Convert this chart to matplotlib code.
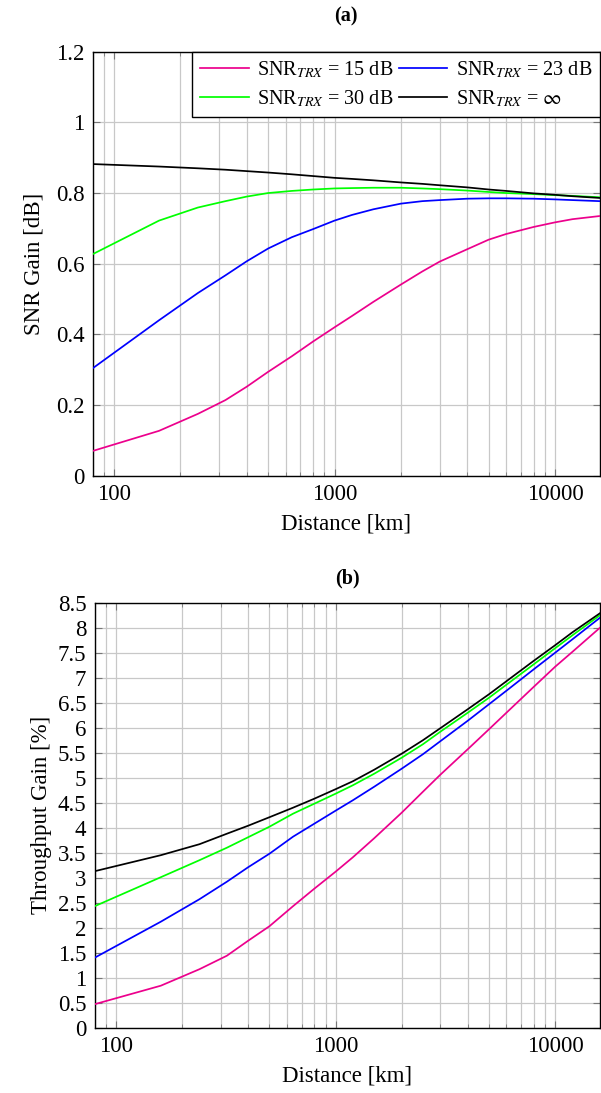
import matplotlib
matplotlib.use('Agg')
import matplotlib.pyplot as plt
from matplotlib.ticker import FixedLocator, FuncFormatter, LogLocator, NullFormatter

plt.rcParams['font.family'] = ['Liberation Serif', 'DejaVu Serif']
plt.rcParams['mathtext.fontset'] = 'stix'

# distance grid [km]
dist = [80, 160, 240, 320, 400, 500, 640, 800, 1000, 1200, 1500, 2000, 2500,
        3000, 4000, 5000, 6000, 8000, 10000, 12000, 16000]

# (a) SNR gain [dB]
snr_15 = [0.070, 0.127, 0.175, 0.214, 0.252, 0.294, 0.338, 0.380, 0.420, 0.452,
          0.492, 0.541, 0.578, 0.606, 0.641, 0.668, 0.684, 0.704, 0.717, 0.726, 0.735]
snr_23 = [0.304, 0.440, 0.517, 0.567, 0.607, 0.643, 0.675, 0.698, 0.722, 0.738,
          0.754, 0.770, 0.777, 0.780, 0.784, 0.785, 0.785, 0.784, 0.782, 0.780, 0.777]
snr_30 = [0.627, 0.722, 0.759, 0.777, 0.790, 0.800, 0.806, 0.810, 0.813, 0.814,
          0.815, 0.815, 0.813, 0.811, 0.807, 0.803, 0.800, 0.797, 0.794, 0.792, 0.788]
snr_inf = [0.882, 0.875, 0.870, 0.866, 0.862, 0.858, 0.853, 0.848, 0.843, 0.840,
           0.836, 0.830, 0.826, 0.822, 0.816, 0.810, 0.806, 0.799, 0.795, 0.791, 0.786]

# (b) throughput gain [%]
thr_15 = [0.47, 0.84, 1.17, 1.44, 1.74, 2.03, 2.43, 2.78, 3.12, 3.41, 3.79,
          4.30, 4.72, 5.06, 5.57, 5.97, 6.30, 6.82, 7.22, 7.52, 8.00]
thr_23 = [1.40, 2.12, 2.57, 2.92, 3.21, 3.48, 3.82, 4.08, 4.34, 4.55, 4.82,
          5.18, 5.47, 5.73, 6.14, 6.47, 6.74, 7.17, 7.50, 7.77, 8.20]
thr_30 = [2.43, 3.01, 3.35, 3.60, 3.81, 4.02, 4.28, 4.48, 4.68, 4.85, 5.08,
          5.40, 5.67, 5.92, 6.30, 6.60, 6.86, 7.27, 7.59, 7.85, 8.25]
thr_inf = [3.13, 3.45, 3.67, 3.88, 4.04, 4.21, 4.40, 4.58, 4.77, 4.93, 5.16,
           5.48, 5.75, 5.99, 6.37, 6.67, 6.93, 7.34, 7.65, 7.91, 8.29]

labels = [r'SNR$_{TRX}$ = 15 dB', r'SNR$_{TRX}$ = 23 dB',
          r'SNR$_{TRX}$ = 30 dB', r'SNR$_{TRX}$ = $\infty$']
colors = ['#ec008c', '#0000ff', '#00ff00', '#000000']

def num(v, pos=None):
    return ('%.1f' % v).rstrip('0').rstrip('.')

fig = plt.figure(figsize=(6.01, 10.93), dpi=100)
ax1 = fig.add_axes([92.7 / 601, 1 - 475.7 / 1093, (600 - 92.7) / 601, (475.7 - 51.7) / 1093])
ax2 = fig.add_axes([94.7 / 601, 1 - 1027.7 / 1093, (600 - 94.7) / 601, (1027.7 - 602.7) / 1093])

FS = 16.5
lines1 = []
for ax, series in [(ax1, [snr_15, snr_23, snr_30, snr_inf]),
                   (ax2, [thr_15, thr_23, thr_30, thr_inf])]:
    hs = []
    for y, c, lab in zip(series, colors, labels):
        h, = ax.plot(dist, y, color=c, lw=1.25, label=lab, zorder=3)
        hs.append(h)
    if ax is ax1:
        lines1 = hs
    ax.set_xscale('log')
    ax.set_xlim(80, 16000)
    ax.xaxis.set_major_locator(FixedLocator([100, 1000, 10000]))
    ax.xaxis.set_major_formatter(FuncFormatter(lambda v, p: '%d' % v))
    ax.xaxis.set_minor_locator(LogLocator(base=10, subs=range(2, 10)))
    ax.xaxis.set_minor_formatter(NullFormatter())
    ax.grid(True, which='both', color='#c8c8c8', lw=0.9, zorder=0)
    ax.tick_params(which='both', direction='in', top=True, right=True,
                   labelsize=FS, color='#777777')
    ax.tick_params(which='major', length=5, pad=6)
    ax.tick_params(which='minor', length=3)
    for s in ax.spines.values():
        s.set_linewidth(1.0)
    ax.set_xlabel('Distance [km]', fontsize=FS, labelpad=6)

ax1.set_ylim(0, 1.2)
ax1.set_yticks([0, 0.2, 0.4, 0.6, 0.8, 1.0, 1.2])
ax1.yaxis.set_major_formatter(FuncFormatter(num))
ax1.set_ylabel('SNR Gain [dB]', fontsize=FS, labelpad=8)
ax1.set_title('(a)', fontsize=14.5, fontweight='bold', pad=22)
order = [0, 2, 1, 3]
leg = ax1.legend([lines1[i] for i in order], [labels[i] for i in order],
                 loc='upper right', ncol=2, fontsize=14.5, frameon=True, fancybox=False,
                 edgecolor='black', framealpha=1, borderpad=0.4, handlelength=2.4,
                 columnspacing=0.3, handletextpad=0.4, labelspacing=0.4,
                 borderaxespad=0)
leg.get_frame().set_linewidth(1.0)

ax2.set_ylim(0, 8.5)
ax2.set_yticks([i * 0.5 for i in range(18)])
ax2.yaxis.set_major_formatter(FuncFormatter(num))
ax2.set_ylabel('Throughput Gain [%]', fontsize=FS, labelpad=4)
ax2.set_title('(b)', fontsize=14.5, fontweight='bold', pad=14)

fig.savefig('out.png', dpi=100)
